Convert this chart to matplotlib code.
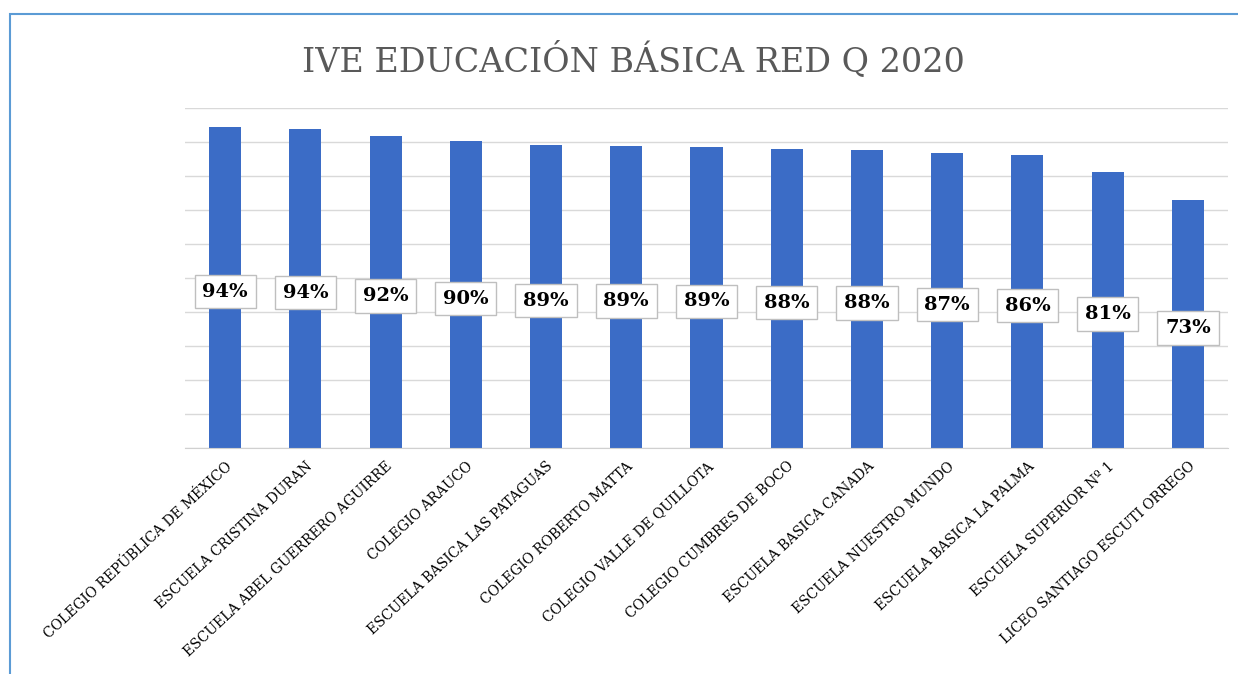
import matplotlib
matplotlib.use("Agg")
import matplotlib.pyplot as plt
from matplotlib.patches import Rectangle

schools = [
    "COLEGIO REPÚBLICA DE MÉXICO",
    "ESCUELA CRISTINA DURAN",
    "ESCUELA ABEL GUERRERO AGUIRRE",
    "COLEGIO ARAUCO",
    "ESCUELA BASICA LAS PATAGUAS",
    "COLEGIO ROBERTO MATTA",
    "COLEGIO VALLE DE QUILLOTA",
    "COLEGIO CUMBRES DE BOCO",
    "ESCUELA BASICA CANADA",
    "ESCUELA NUESTRO MUNDO",
    "ESCUELA BASICA LA PALMA",
    "ESCUELA SUPERIOR Nº 1",
    "LICEO SANTIAGO ESCUTI ORREGO",
]
ive_values = [0.944, 0.938, 0.918, 0.903, 0.891, 0.888, 0.886,
              0.879, 0.876, 0.868, 0.862, 0.812, 0.729]
title_text = "IVE EDUCACIÓN BÁSICA RED Q 2020"

W, H = 1238, 674
fig = plt.figure(figsize=(W / 100, H / 100), dpi=100)
fig.patch.set_facecolor("white")

# outer chart border (blue)
fig.patches.append(Rectangle((10 / W, -0.1), 1.2, (1 - 14 / H) + 0.1,
                             transform=fig.transFigure, fill=False,
                             edgecolor="#5B9BD5", linewidth=1.5))

ax = fig.add_axes([185 / W, 1 - 448 / H, (1228 - 185) / W, (448 - 108) / H])
x = list(range(len(schools)))
ax.bar(x, ive_values, width=0.4, color="#3B6CC6", zorder=2)
ax.set_xlim(-0.5, len(schools) - 0.5)
ax.set_ylim(0, 1.0)
ax.set_yticks([i / 10 for i in range(11)])
ax.set_yticklabels([])
ax.tick_params(axis="y", length=0)
ax.tick_params(axis="x", length=0, pad=8)
ax.grid(axis="y", color="#D9D9D9", linewidth=1, zorder=0)
for s in ["left", "right", "top"]:
    ax.spines[s].set_visible(False)
ax.spines["bottom"].set_color("#D0D0D0")
ax.set_xticks(x)
ax.set_xticklabels(schools, rotation=43, ha="right", rotation_mode="anchor",
                   fontsize=10, family="DejaVu Serif", color="black")

for xi, v in zip(x, ive_values):
    ax.text(xi, v / 2 - 0.012, f"{round(v * 100):d}%", ha="center", va="center",
            fontsize=14, fontweight="bold", family="DejaVu Serif",
            color="black", zorder=3,
            bbox=dict(boxstyle="square,pad=0.4", facecolor="white",
                      edgecolor="#BFBFBF", linewidth=1))

fig.text(633 / W, 1 - 60 / H, title_text, ha="center", va="center",
         fontsize=24, family="DejaVu Serif", color="#595959")

fig.savefig("out.png", dpi=100)
